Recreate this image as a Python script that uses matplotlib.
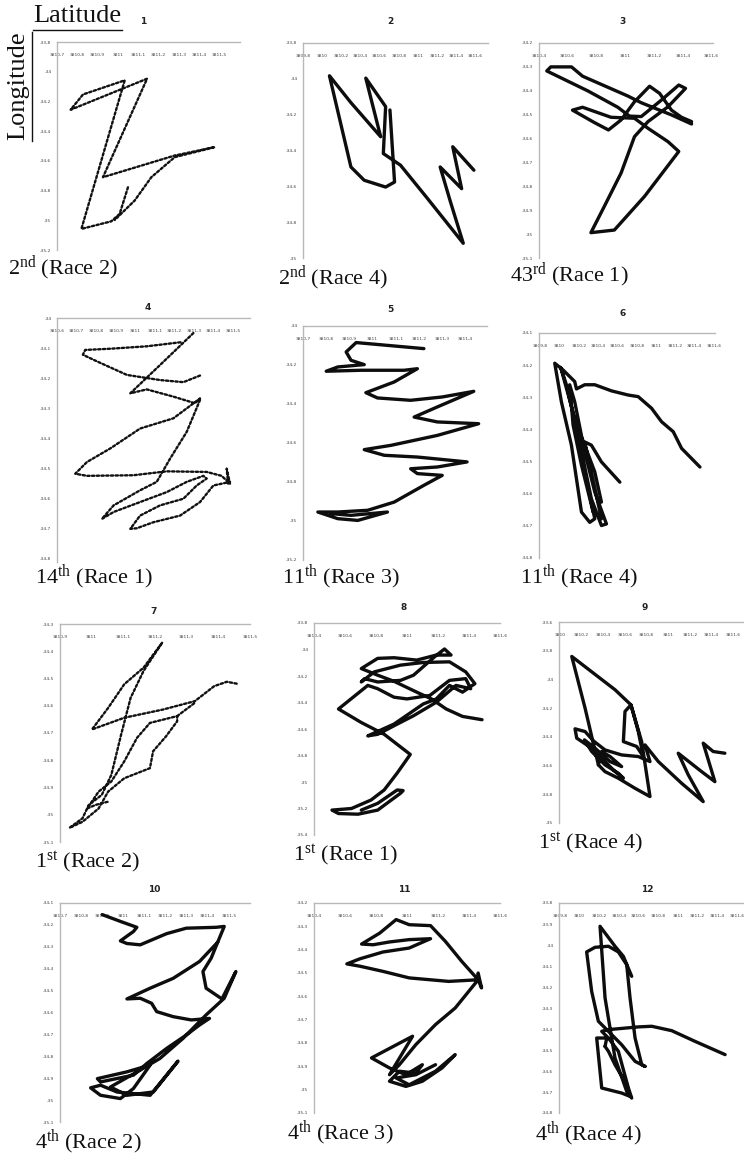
import numpy as np
import matplotlib
matplotlib.use("Agg")
import matplotlib.pyplot as plt
from matplotlib.ticker import FuncFormatter
from matplotlib.lines import Line2D

plt.rcParams['mathtext.fontset'] = 'custom'
plt.rcParams['mathtext.rm'] = 'Liberation Serif'
plt.rcParams['mathtext.it'] = 'Liberation Serif:italic'

nan = np.nan

# ---------------- data (x = latitude, y = longitude) ----------------
lat_1 = [3811.049, 3811.008, 3810.967, 3810.820, 3811.033, 3810.828, 3810.767, 3811.143, 3810.926,
         3811.279, 3811.475, 3811.279, 3811.164, 3811.082, 3810.984]
lon_1 = [-34.778, -34.957, -35.007, -35.058, -34.058, -34.153, -34.256, -34.047, -34.710,
         -34.564, -34.508, -34.575, -34.710, -34.867, -34.998]

lat_2 = [3811.583, 3811.362, 3811.455, 3811.231, 3811.334, 3811.472, 3811.093, 3810.817, 3810.638,
         3810.662, 3810.455, 3810.610, 3810.300, 3810.076, 3810.300, 3810.438, 3810.662, 3810.755, 3810.707]
lon_2 = [-34.510, -34.379, -34.613, -34.492, -34.679, -34.918, -34.664, -34.482, -34.417,
         -34.155, -33.996, -34.323, -34.133, -33.983, -34.492, -34.566, -34.604, -34.576, -34.174]

lat_3 = [3811.461, 3811.321, 3811.111, 3811.018, 3810.703, 3810.626, 3810.482, 3810.454, 3810.738,
         3810.948, 3811.029, 3811.111, 3811.251, 3811.372, 3811.419, 3811.297, 3811.158, 3811.064,
         3810.971, 3810.855, 3810.761, 3810.924, 3811.134, 3811.372, 3811.297, 3811.158, 3811.064,
         3810.901, 3810.703, 3810.633, 3810.785, 3810.883, 3810.971, 3811.064, 3811.169, 3811.239,
         3811.321, 3811.391, 3811.461]
lon_3 = [-34.539, -34.501, -34.450, -34.422, -34.339, -34.300, -34.300, -34.317, -34.400,
         -34.469, -34.506, -34.508, -34.439, -34.376, -34.390, -34.467, -34.529, -34.592,
         -34.744, -34.883, -34.994, -34.983, -34.842, -34.654, -34.613, -34.557, -34.515,
         -34.511, -34.469, -34.481, -34.533, -34.564, -34.522, -34.446, -34.381, -34.411,
         -34.481, -34.511, -34.529]

lat_4 = [3811.296, 3811.126, 3810.974, 3811.058, 3811.194, 3811.305, 3811.330, 3811.194, 3811.024,
         3810.872, 3810.753, 3810.693, 3810.753, 3810.990, 3811.160, 3811.364, 3811.440, 3811.483,
         3811.466, 3811.474, nan,
         3811.330, 3811.245, 3811.126, 3810.957, 3810.804, 3810.732, 3810.744, 3810.872, 3811.058,
         3811.237, nan,
         3811.330, 3811.262, 3811.177, 3811.109, 3811.024, 3810.889, 3810.829, 3810.889, 3811.024,
         3811.160, 3811.262, 3811.347, 3811.364, 3811.313, 3811.245, 3811.126, 3811.024, 3810.974,
         3811.007, 3811.092, 3811.228, 3811.330, 3811.398, 3811.483]
lon_4 = [-34.050, -34.156, -34.250, -34.237, -34.261, -34.283, -34.267, -34.333, -34.367,
         -34.433, -34.478, -34.517, -34.524, -34.522, -34.509, -34.511, -34.524, -34.550,
         -34.500, -34.556, nan,
         -34.191, -34.213, -34.206, -34.189, -34.144, -34.122, -34.106, -34.102, -34.094,
         -34.080, nan,
         -34.272, -34.378, -34.467, -34.544, -34.572, -34.622, -34.667, -34.644, -34.611,
         -34.578, -34.544, -34.524, -34.533, -34.556, -34.600, -34.622, -34.656, -34.700,
         -34.698, -34.678, -34.656, -34.611, -34.556, -34.544]

lat_5 = [3811.221, 3810.929, 3810.886, 3810.907, 3810.964, 3810.850, 3810.800, 3810.950, 3811.136,
         3811.193, 3811.093, 3810.971, 3811.021, 3811.164, 3811.300, 3811.436, 3811.279, 3811.179,
         3811.279, 3811.457, 3811.279, 3811.079, 3810.964, 3811.050, 3811.193, 3811.407, 3811.279,
         3811.164, 3811.193, 3811.300, 3811.221, 3811.093, 3810.979, 3810.850, 3810.764, 3810.850,
         3810.936, 3811.064, 3810.907, 3810.821]
lon_5 = [-34.116, -34.085, -34.133, -34.176, -34.198, -34.210, -34.232, -34.227, -34.227,
         -34.219, -34.287, -34.342, -34.369, -34.381, -34.364, -34.335, -34.415, -34.467,
         -34.492, -34.501, -34.561, -34.612, -34.634, -34.663, -34.672, -34.697, -34.723,
         -34.732, -34.757, -34.766, -34.817, -34.903, -34.945, -34.954, -34.954, -34.988,
         -34.997, -34.954, -34.971, -34.962]

lat_6 = [3811.454, 3811.264, 3811.177, 3811.056, 3810.952, 3810.814, 3810.710, 3810.537, 3810.364,
         3810.260, 3810.174, 3810.156, 3810.035, 3809.949, 3810.018, 3810.122, 3810.226, 3810.312,
         3810.364, 3810.260, 3810.156, 3810.011, 3810.070, 3810.191, 3810.329, 3810.433, 3810.485,
         3810.364, 3810.260, 3810.156, 3810.104, 3810.139, 3810.226, 3810.347, 3810.433, 3810.260,
         3810.329, 3810.433, 3810.624, nan, 3810.233, 3810.364, 3810.433]
lon_6 = [-34.517, -34.459, -34.407, -34.376, -34.334, -34.298, -34.293, -34.280, -34.261,
         -34.261, -34.274, -34.251, -34.215, -34.194, -34.314, -34.449, -34.657, -34.689,
         -34.678, -34.532, -34.366, -34.207, -34.261, -34.418, -34.616, -34.699, -34.694,
         -34.595, -34.470, -34.314, -34.261, -34.386, -34.511, -34.657, -34.678, -34.439,
         -34.449, -34.501, -34.564, nan, -34.428, -34.532, -34.626]

lat_7 = [3811.458, 3811.427, 3811.387, 3811.326, 3811.225, 3811.103, 3811.001, 3811.052, 3811.103,
         3811.164, 3811.223, 3811.164, 3811.123, 3811.093, 3811.062, 3811.032, 3810.991, 3810.971,
         3810.930, 3810.971, 3811.022, 3811.052, 3811.103, 3811.184, 3811.194, 3811.235, 3811.270,
         3811.270, 3811.184, 3811.143, 3811.103, 3811.062, 3811.022, 3810.986, 3811.012, 3811.052,
         nan, 3811.270, 3811.326]
lon_7 = [-34.519, -34.512, -34.528, -34.583, -34.614, -34.644, -34.687, -34.608, -34.521,
         -34.460, -34.368, -34.472, -34.571, -34.706, -34.854, -34.927, -34.964, -35.013,
         -35.048, -35.026, -34.977, -34.915, -34.866, -34.829, -34.767, -34.712, -34.657,
         -34.638, -34.663, -34.718, -34.804, -34.878, -34.915, -34.977, -34.964, -34.952,
         nan, -34.638, -34.589]

lat_8 = [3811.484, 3811.358, 3811.253, 3811.158, 3811.063, 3810.916, 3810.811, 3810.705, 3810.811,
         3810.916, 3811.063, 3811.189, 3811.284, 3811.242, 3811.179, 3811.042, 3810.958, 3810.811,
         3810.726, 3810.705, 3810.789, 3810.958, 3811.105, 3811.274, 3811.379, 3811.438, 3811.358,
         3811.274, 3811.189, 3811.105, 3810.916, 3810.747, 3810.811, 3810.937, 3811.042, 3811.189,
         3811.316, 3811.411, 3811.379, 3811.274, 3811.147, 3811.000, 3810.916, 3810.811, 3810.747,
         3810.558, 3810.705, 3810.853, 3811.021, 3810.937, 3810.853, 3810.768, 3810.642, 3810.516,
         3810.558, 3810.684, 3810.811, 3810.958, 3810.975, 3810.937, 3810.811, 3810.705]
lon_8 = [-34.530, -34.505, -34.449, -34.373, -34.322, -34.240, -34.194, -34.144, -34.067,
         -34.062, -34.080, -34.042, -34.042, -33.996, -34.054, -34.194, -34.233, -34.245,
         -34.220, -34.245, -34.169, -34.118, -34.098, -34.093, -34.169, -34.258, -34.322,
         -34.271, -34.373, -34.411, -34.563, -34.652, -34.640, -34.563, -34.500, -34.398,
         -34.271, -34.296, -34.220, -34.233, -34.347, -34.373, -34.360, -34.296, -34.271,
         -34.449, -34.551, -34.640, -34.792, -34.932, -35.060, -35.136, -35.200, -35.212,
         -35.238, -35.243, -35.212, -35.085, -35.065, -35.060, -35.161, -35.212]

lat_9 = [3811.523, 3811.415, 3811.323, 3811.431, 3811.308, 3811.092, 3811.185, 3811.323, 3811.123,
         3810.908, 3810.785, 3810.831, 3810.723, 3810.569, 3810.415, 3810.308, 3810.231, 3810.138,
         3810.154, 3810.292, 3810.415, 3810.508, 3810.585, 3810.538, 3810.415, 3810.292, 3810.225,
         3810.323, 3810.462, 3810.569, 3810.462, 3810.385, 3810.354, 3810.231, 3810.108, 3810.508,
         3810.655, 3810.600, 3810.585, 3810.708, 3810.769, 3810.723, 3810.655, 3810.754, 3810.831,
         3810.692, 3810.538, 3810.415, 3810.354]
lon_9 = [-34.514, -34.502, -34.444, -34.712, -34.642, -34.514, -34.665, -34.851, -34.723,
         -34.572, -34.456, -34.572, -34.537, -34.526, -34.491, -34.428, -34.363, -34.344,
         -34.409, -34.479, -34.572, -34.642, -34.688, -34.653, -34.595, -34.502, -34.421,
         -34.479, -34.572, -34.607, -34.537, -34.502, -34.595, -34.200, -33.840, -34.072,
         -34.177, -34.223, -34.433, -34.467, -34.537, -34.363, -34.177, -34.433, -34.816,
         -34.758, -34.688, -34.642, -34.595]

lat_10 = [3810.900, 3810.986, 3811.064, 3811.048, 3810.986, 3811.017, 3811.080, 3811.205, 3811.298,
          3811.439, 3811.478, 3811.447, 3811.361, 3811.236, 3811.127, 3811.017, 3811.080, 3811.134,
          3811.158, 3811.236, 3811.322, 3811.408, 3811.361, 3811.298, 3811.205, 3811.111, 3811.048,
          3810.892, 3810.877, 3811.017, 3811.127, 3811.048, 3810.986, 3810.892, 3810.845, 3810.892,
          3810.970, 3811.127, 3811.259, 3811.142, 3811.017, 3810.939, 3811.080, 3811.173, 3811.283,
          3811.392, 3811.478, 3811.533, 3811.467, 3811.392, 3811.377, 3811.416, 3811.447]
lon_10 = [-34.153, -34.184, -34.211, -34.230, -34.273, -34.285, -34.291, -34.240, -34.215,
          -34.211, -34.207, -34.279, -34.367, -34.444, -34.489, -34.538, -34.535, -34.558,
          -34.596, -34.619, -34.634, -34.627, -34.657, -34.703, -34.764, -34.833, -34.886,
          -34.917, -34.902, -34.871, -34.840, -34.947, -34.993, -34.978, -34.944, -34.932,
          -34.963, -34.978, -34.822, -34.963, -34.978, -34.940, -34.863, -34.810, -34.718,
          -34.611, -34.535, -34.413, -34.538, -34.489, -34.413, -34.352, -34.279]

lat_11 = [3811.459, 3811.481, 3811.459, 3811.459, 3811.269, 3811.014, 3810.845, 3810.697, 3810.612,
          3810.697, 3810.845, 3811.014, 3811.152, 3811.014, 3810.887, 3810.781, 3810.707, 3810.824,
          3810.930, 3811.014, 3811.152, 3811.247, 3811.353, 3811.459, 3811.311, 3811.184, 3811.057,
          3810.951, 3810.887, 3811.036, 3810.771, 3810.887, 3810.993, 3811.099, 3811.057, 3810.951,
          3810.887, 3810.993, 3811.099, 3811.226, 3811.311, 3811.184, 3811.014, 3810.930, 3811.057,
          3811.184]
lon_11 = [-34.529, -34.564, -34.500, -34.529, -34.536, -34.521, -34.493, -34.471, -34.461,
          -34.439, -34.410, -34.393, -34.353, -34.357, -34.367, -34.379, -34.376, -34.329,
          -34.271, -34.293, -34.297, -34.364, -34.450, -34.529, -34.650, -34.721, -34.807,
          -34.893, -34.936, -34.771, -34.864, -34.907, -34.936, -34.893, -34.929, -34.921,
          -34.964, -34.986, -34.964, -34.907, -34.850, -34.921, -34.979, -34.950, -34.936,
          -34.893]

lat_12 = [3810.529, 3810.444, 3810.359, 3810.207, 3810.258, 3810.359, 3810.478, 3810.529, 3810.495,
          3810.393, 3810.292, 3810.224, 3810.292, 3810.597, 3810.732, 3810.936, 3811.173, 3811.478,
          nan,
          3810.664, 3810.563, 3810.427, 3810.292, 3810.190, 3810.122, 3810.071, 3810.156, 3810.292,
          3810.393, 3810.478, 3810.512, 3810.563, 3810.631, 3810.664,
          nan,
          3810.258, 3810.275, 3810.173, 3810.224, 3810.427, 3810.512, 3810.478, 3810.359, 3810.292,
          3810.258]
lon_12 = [-34.149, -34.054, -34.006, -33.911, -34.252, -34.538, -34.697, -34.729, -34.681,
          -34.506, -34.443, -34.411, -34.403, -34.390, -34.387, -34.408, -34.459, -34.522,
          nan,
          -34.578, -34.554, -34.475, -34.411, -34.363, -34.221, -34.033, -34.011, -34.006,
          -34.033, -34.094, -34.252, -34.443, -34.570, -34.578,
          nan,
          -34.483, -34.443, -34.443, -34.681, -34.705, -34.721, -34.665, -34.570, -34.506,
          -34.483]

panel_titles = ["1", "2", "3", "4", "5", "6", "7", "8", "9", "10", "11", "12"]
ranks = ["2", "2", "43", "14", "11", "11", "1", "1", "1", "4", "4", "4"]
suffixes = ["nd", "nd", "rd", "th", "th", "th", "st", "st", "st", "th", "th", "th"]
races = ["Race 2", "Race 4", "Race 1", "Race 1", "Race 3", "Race 4",
         "Race 2", "Race 1", "Race 4", "Race 2", "Race 3", "Race 4"]

xticks_all = [
    [3810.7, 3810.8, 3810.9, 3811.0, 3811.1, 3811.2, 3811.3, 3811.4, 3811.5],
    [3809.8, 3810.0, 3810.2, 3810.4, 3810.6, 3810.8, 3811.0, 3811.2, 3811.4, 3811.6],
    [3810.4, 3810.6, 3810.8, 3811.0, 3811.2, 3811.4, 3811.6],
    [3810.6, 3810.7, 3810.8, 3810.9, 3811.0, 3811.1, 3811.2, 3811.3, 3811.4, 3811.5],
    [3810.7, 3810.8, 3810.9, 3811.0, 3811.1, 3811.2, 3811.3, 3811.4],
    [3809.8, 3810.0, 3810.2, 3810.4, 3810.6, 3810.8, 3811.0, 3811.2, 3811.4, 3811.6],
    [3810.9, 3811.0, 3811.1, 3811.2, 3811.3, 3811.4, 3811.5],
    [3810.4, 3810.6, 3810.8, 3811.0, 3811.2, 3811.4, 3811.6],
    [3810.0, 3810.2, 3810.4, 3810.6, 3810.8, 3811.0, 3811.2, 3811.4, 3811.6],
    [3810.7, 3810.8, 3810.9, 3811.0, 3811.1, 3811.2, 3811.3, 3811.4, 3811.5],
    [3810.4, 3810.6, 3810.8, 3811.0, 3811.2, 3811.4, 3811.6],
    [3809.8, 3810.0, 3810.2, 3810.4, 3810.6, 3810.8, 3811.0, 3811.2, 3811.4, 3811.6],
]
yticks_all = [
    [-33.8, -34.0, -34.2, -34.4, -34.6, -34.8, -35.0, -35.2],
    [-33.8, -34.0, -34.2, -34.4, -34.6, -34.8, -35.0],
    [-34.2, -34.3, -34.4, -34.5, -34.6, -34.7, -34.8, -34.9, -35.0, -35.1],
    [-34.0, -34.1, -34.2, -34.3, -34.4, -34.5, -34.6, -34.7, -34.8],
    [-34.0, -34.2, -34.4, -34.6, -34.8, -35.0, -35.2],
    [-34.1, -34.2, -34.3, -34.4, -34.5, -34.6, -34.7, -34.8],
    [-34.3, -34.4, -34.5, -34.6, -34.7, -34.8, -34.9, -35.0, -35.1],
    [-33.8, -34.0, -34.2, -34.4, -34.6, -34.8, -35.0, -35.2, -35.4],
    [-33.6, -33.8, -34.0, -34.2, -34.4, -34.6, -34.8, -35.0],
    [-34.1, -34.2, -34.3, -34.4, -34.5, -34.6, -34.7, -34.8, -34.9, -35.0, -35.1],
    [-34.2, -34.3, -34.4, -34.5, -34.6, -34.7, -34.8, -34.9, -35.0, -35.1],
    [-33.8, -33.9, -34.0, -34.1, -34.2, -34.3, -34.4, -34.5, -34.6, -34.7, -34.8],
]

lats = [lat_1, lat_2, lat_3, lat_4, lat_5, lat_6, lat_7, lat_8, lat_9, lat_10, lat_11, lat_12]
lons = [lon_1, lon_2, lon_3, lon_4, lon_5, lon_6, lon_7, lon_8, lon_9, lon_10, lon_11, lon_12]
dotted = [True, False, False, True, False, False, True, False, False, False, False, False]

# ---------------- layout (pixels) ----------------
W, H = 744, 1157
boxes = [(57, 42, 240, 250), (303, 43, 488, 258), (539, 43, 713, 258),
         (57, 318, 250, 562), (303, 326, 487, 560), (539, 333, 715, 558),
         (60, 624, 250, 842), (314, 623, 500, 835), (559, 622, 744, 823),
         (60, 903, 250, 1122), (314, 903, 500, 1113), (559, 903, 744, 1113)]
xlims = [(3810.7, 3811.6), (3809.8, 3811.73), (3810.4, 3811.61),
         (3810.6, 3811.585), (3810.705, 3811.493), (3809.786, 3811.61),
         (3810.9, 3811.5), (3810.41, 3811.6), (3809.99, 3811.7),
         (3810.705, 3811.6), (3810.404, 3811.6), (3809.79, 3811.67)]
ylims = [(-35.2, -33.8), (-35.0, -33.8), (-35.1, -34.2),
         (-34.81, -34.0), (-35.2, -34.0), (-34.8, -34.1),
         (-35.1, -34.3), (-35.4, -33.8), (-35.0, -33.6),
         (-35.1, -34.1), (-35.1, -34.2), (-34.8, -33.8)]
title_pos = [(143, 21), (390, 21), (623, 21), (148, 307), (390, 310), (623, 313),
             (154, 611), (404, 608), (645, 608), (154, 889), (404, 889), (647, 889)]
label_pos = [(8, 268), (278, 278), (510, 275), (35, 577), (282, 577), (520, 577),
             (35, 862), (293, 855), (538, 843), (35, 1142), (287, 1133), (535, 1134)]


def comma_fmt(v, pos):
    s = ("%.1f" % v)
    if s.endswith(".0"):
        s = s[:-2]
    return s.replace(".", ",")


fig = plt.figure(figsize=(W / 100, H / 100), dpi=100)
fig.patch.set_facecolor("white")

for i in range(12):
    l, t, r, b = boxes[i]
    ax = fig.add_axes([l / W, 1 - b / H, (r - l) / W, (b - t) / H])
    ax.set_facecolor("none")
    if dotted[i]:
        ax.plot(lats[i], lons[i], color="#111111", lw=1.7, linestyle=(0, (1.0, 1.0)),
                dash_capstyle="round", clip_on=False)
    else:
        ax.plot(lats[i], lons[i], color="#0d0d0d", lw=2.4, solid_joinstyle="round",
                solid_capstyle="round", clip_on=False)
    ax.set_xlim(*xlims[i])
    ax.set_ylim(*ylims[i])
    ax.set_xticks(xticks_all[i])
    ax.set_yticks(yticks_all[i])
    ax.xaxis.set_major_formatter(FuncFormatter(comma_fmt))
    ax.yaxis.set_major_formatter(FuncFormatter(comma_fmt))
    for s in ["bottom", "right"]:
        ax.spines[s].set_visible(False)
    for s in ["top", "left"]:
        ax.spines[s].set_color("#b8b8b8")
        ax.spines[s].set_linewidth(1.0)
    ax.tick_params(axis="x", top=True, bottom=False, labeltop=True, labelbottom=False,
                   length=0, pad=-11, labelsize=3.2, labelcolor="#444444")
    ax.tick_params(axis="y", length=0, pad=4, labelsize=3.2, labelcolor="#444444")
    for lab in ax.get_xticklabels():
        lab.set_clip_on(False)

    tx, ty = title_pos[i]
    fig.text(tx / W, 1 - ty / H, panel_titles[i], ha="center", va="center",
             fontsize=6.5, fontweight="bold", color="#222222")
    lx, ly = label_pos[i]
    fig.text(lx / W, 1 - ly / H,
             ranks[i] + r"$^{\mathrm{" + suffixes[i] + r"}}$" + " (" + races[i] + ")",
             ha="left", va="center", fontsize=16, family="Liberation Serif", color="#111111")

# Axis names
fig.text(33 / W, 1 - 16 / H, "Latitude", ha="left", va="center", fontsize=19,
         family="Liberation Serif", color="#111111")
fig.add_artist(Line2D([33 / W, 122 / W], [1 - 30 / H, 1 - 30 / H], color="#111111", lw=1.0))
fig.text(18 / W, 1 - 86 / H, "Longitude", ha="center", va="center", rotation=90, fontsize=19,
         family="Liberation Serif", color="#111111")
fig.add_artist(Line2D([32 / W, 32 / W], [1 - 32 / H, 1 - 141 / H], color="#111111", lw=1.0))

fig.savefig("out.png", dpi=100, facecolor="white")
